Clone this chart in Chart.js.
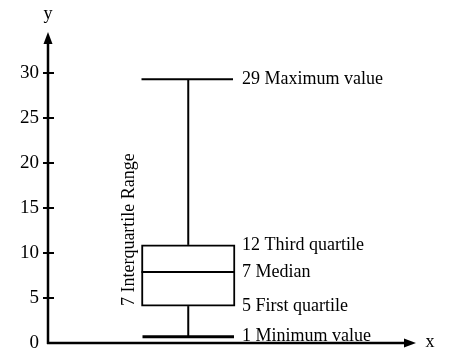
<!DOCTYPE html>
<html>
<head>
<meta charset="utf-8">
<script src="https://cdn.jsdelivr.net/npm/chart.js@4"></script>
<style>
  body { margin: 0; background: #fff; }
  #wrap { width: 450px; height: 364px; }
</style>
</head>
<body>
<div id="wrap"><canvas id="myChart"></canvas></div>
<script>
// x slots, the box sits in the second one
const categories = ['', 'Data', '', ''];
const boxIndex = 1;

// min, first quartile, median, third quartile, max (as drawn)
const statValues = [0.7, 4.1, 7.9, 10.9, 29.3];
const statLabels = ['1 Minimum value', '5 First quartile', '7 Median', '12 Third quartile', '29 Maximum value'];
const iqrLabel = '7 Interquartile Range';

const yTicks = [0, 5, 10, 15, 20, 25, 30];

const font = '18px "Liberation Serif", "Times New Roman", serif';

const boxData = categories.map((c, i) => i === boxIndex ? [statValues[1], statValues[3]] : null);

function line(ctx, x1, y1, x2, y2) {
    ctx.beginPath();
    ctx.moveTo(x1, y1);
    ctx.lineTo(x2, y2);
    ctx.stroke();
}

const boxPlot = {
    id: 'boxPlot',
    afterDraw(chart) {
        const ctx = chart.ctx;
        const a = chart.chartArea;
        const y = chart.scales.y;
        const bar = chart.getDatasetMeta(0).data[boxIndex];
        const left = bar.x - bar.width / 2;
        const right = bar.x + bar.width / 2;
        const py = v => y.getPixelForValue(v);
        const [mn, q1, md, q3, mx] = statValues;

        ctx.save();
        ctx.strokeStyle = '#000';
        ctx.fillStyle = '#000';
        ctx.lineWidth = 2;

        // whiskers and median
        line(ctx, bar.x, py(q1), bar.x, py(mn));
        line(ctx, bar.x, py(q3), bar.x, py(mx));
        line(ctx, left, py(md), right, py(md));
        line(ctx, left, py(mx), right - 2, py(mx));
        ctx.lineWidth = 3;
        line(ctx, left + 1, py(mn), right - 1, py(mn));

        // value labels
        ctx.font = font;
        ctx.textAlign = 'left';
        ctx.textBaseline = 'middle';
        statLabels.forEach((t, i) => ctx.fillText(t, right + 7, py(statValues[i])));

        // interquartile range label
        ctx.save();
        ctx.translate(left - 12, py(q1));
        ctx.rotate(-Math.PI / 2);
        ctx.fillText(iqrLabel, 0, 0);
        ctx.restore();

        // axes with arrows
        ctx.lineWidth = 2.5;
        const x0 = a.left, y0 = a.bottom;
        const yTip = 32, xTip = a.right - 6;
        line(ctx, x0, y0 + 1, x0, yTip + 6);
        line(ctx, x0 - 1, y0, xTip - 6, y0);
        ctx.beginPath();
        ctx.moveTo(x0, yTip);
        ctx.lineTo(x0 - 4.5, yTip + 12);
        ctx.lineTo(x0 + 4.5, yTip + 12);
        ctx.closePath();
        ctx.fill();
        ctx.beginPath();
        ctx.moveTo(xTip, y0);
        ctx.lineTo(xTip - 12, y0 - 4.5);
        ctx.lineTo(xTip - 12, y0 + 4.5);
        ctx.closePath();
        ctx.fill();

        // tick marks crossing the y axis
        ctx.lineWidth = 2;
        yTicks.forEach(v => {
            if (v === 0) return;
            line(ctx, x0 - 5, py(v), x0 + 6, py(v));
        });

        // axis names
        ctx.textAlign = 'center';
        ctx.fillText('y', x0, 14);
        ctx.fillText('x', xTip + 14, y0 - 1);
        ctx.restore();
    }
};

var ctx = document.getElementById('myChart').getContext('2d');
new Chart(ctx, {
    type: 'bar',
    data: {
        labels: categories,
        datasets: [{
            label: 'Box',
            data: boxData,
            backgroundColor: '#fff',
            borderColor: '#000',
            borderWidth: 2,
            borderSkipped: false,
            barPercentage: 1,
            categoryPercentage: 1
        }]
    },
    options: {
        responsive: true,
        maintainAspectRatio: false,
        animation: false,
        layout: { padding: { top: 73, bottom: 21, left: 0, right: 28 } },
        plugins: { legend: { display: false }, tooltip: { enabled: false } },
        scales: {
            x: { display: false },
            y: {
                min: yTicks[0],
                max: yTicks[yTicks.length - 1],
                afterBuildTicks: scale => { scale.ticks = yTicks.map(v => ({ value: v })); },
                afterFit: scale => { scale.width = 48; },
                border: { display: false },
                grid: { display: false, drawTicks: false },
                ticks: {
                    padding: 9,
                    color: '#000',
                    font: { family: '"Liberation Serif", "Times New Roman", serif', size: 19 }
                }
            }
        }
    },
    plugins: [boxPlot]
});
</script>
</body>
</html>
